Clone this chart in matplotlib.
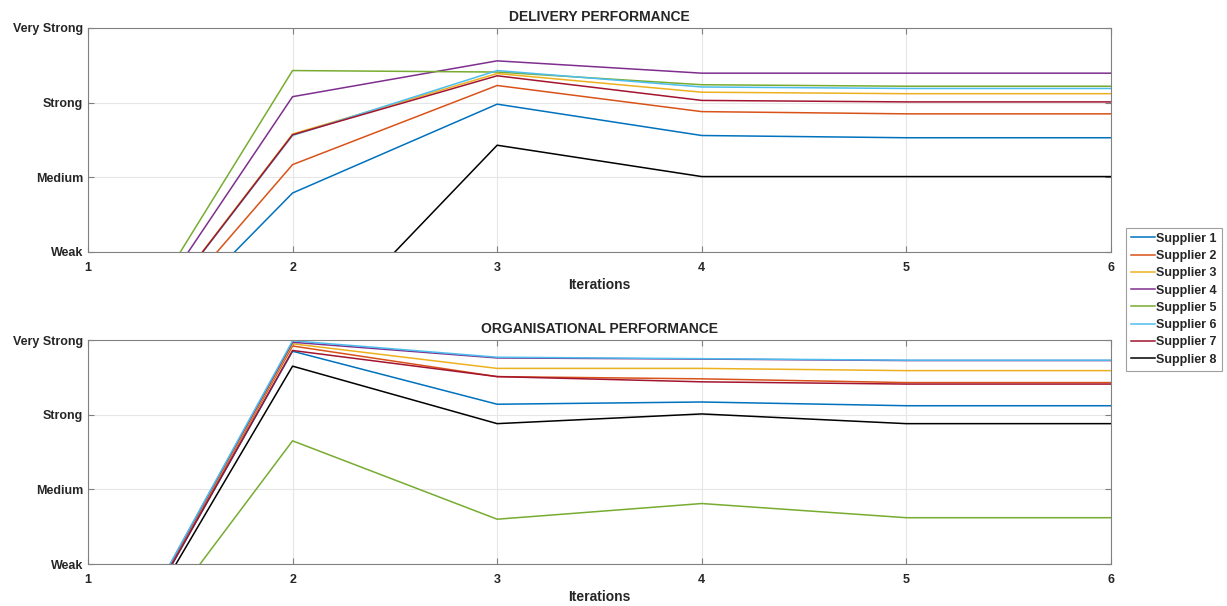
import matplotlib
matplotlib.use("Agg")
import matplotlib.pyplot as plt

plt.rcParams['font.family'] = ['Liberation Sans', 'DejaVu Sans']
plt.rcParams['font.weight'] = 'bold'

iterations = [1, 2, 3, 4, 5, 6]
suppliers = ["Supplier 1", "Supplier 2", "Supplier 3", "Supplier 4",
             "Supplier 5", "Supplier 6", "Supplier 7", "Supplier 8"]
colors = ["#0072BD", "#D95319", "#EDB120", "#7E2F8E",
          "#77AC30", "#4DBEEE", "#A2142F", "#000000"]

level_values = [1, 2, 3, 4]
level_labels = ["Weak", "Medium", "Strong", "Very Strong"]

delivery = [
    [-1, 1.79, 2.98, 2.56, 2.53, 2.53],
    [-1, 2.17, 3.23, 2.88, 2.85, 2.85],
    [-1, 2.58, 3.39, 3.14, 3.12, 3.12],
    [-1, 3.08, 3.56, 3.395, 3.395, 3.395],
    [-1, 3.43, 3.41, 3.24, 3.22, 3.22],
    [-1, 2.56, 3.43, 3.21, 3.19, 3.19],
    [-1, 2.57, 3.36, 3.03, 3.01, 3.01],
    [-1, -0.43, 2.43, 2.01, 2.01, 2.01],
]

organisational = [
    [-1, 3.85, 3.14, 3.17, 3.12, 3.12],
    [-1, 3.92, 3.51, 3.48, 3.43, 3.43],
    [-1, 3.95, 3.62, 3.62, 3.59, 3.59],
    [-1, 3.97, 3.76, 3.745, 3.725, 3.725],
    [-1, 2.65, 1.60, 1.81, 1.62, 1.62],
    [-1, 3.99, 3.77, 3.75, 3.73, 3.73],
    [-1, 3.86, 3.51, 3.44, 3.41, 3.41],
    [-1, 3.65, 2.88, 3.01, 2.88, 2.88],
]

TEXT = "#262626"


def draw_panel(ax, data, title):
    for name, col, vals in zip(suppliers, colors, data):
        ax.plot(iterations, vals, color=col, lw=1.1, label=name)
    ax.set_xlim(1, 6)
    ax.set_ylim(1, 4)
    ax.set_xticks(iterations)
    ax.set_yticks(level_values)
    ax.set_yticklabels(level_labels)
    ax.grid(True, color="#e6e6e6", lw=0.8)
    ax.set_axisbelow(True)
    ax.tick_params(direction="in", length=4, color="#808080",
                   labelsize=9, labelcolor=TEXT, top=True, right=True)
    ax.tick_params(axis="x", pad=7)
    for s in ax.spines.values():
        s.set_color("#808080")
        s.set_linewidth(0.8)
    ax.set_title(title, fontsize=10, fontweight="bold", pad=5, color=TEXT)
    ax.set_xlabel("Iterations", fontsize=10, fontweight="bold",
                  labelpad=3, color=TEXT)


fig = plt.figure(figsize=(12.27, 6.06), dpi=100)
ax1 = fig.add_axes([0.0717, 0.5842, 0.8337, 0.3696])
ax2 = fig.add_axes([0.0717, 0.0693, 0.8337, 0.3696])

draw_panel(ax1, delivery, "DELIVERY PERFORMANCE")
draw_panel(ax2, organisational, "ORGANISATIONAL PERFORMANCE")

handles, labels = ax1.get_legend_handles_labels()
leg = fig.legend(handles, labels, loc="upper left",
                 bbox_to_anchor=(0.9175, 0.624), fontsize=9,
                 handlelength=1.9, handletextpad=0.15, labelspacing=0.42,
                 borderpad=0.4, borderaxespad=0, fancybox=False,
                 edgecolor="#a0a0a0", framealpha=1)
leg.get_frame().set_linewidth(0.8)
for t in leg.get_texts():
    t.set_color(TEXT)

fig.savefig("out.png", dpi=100, facecolor="white")
